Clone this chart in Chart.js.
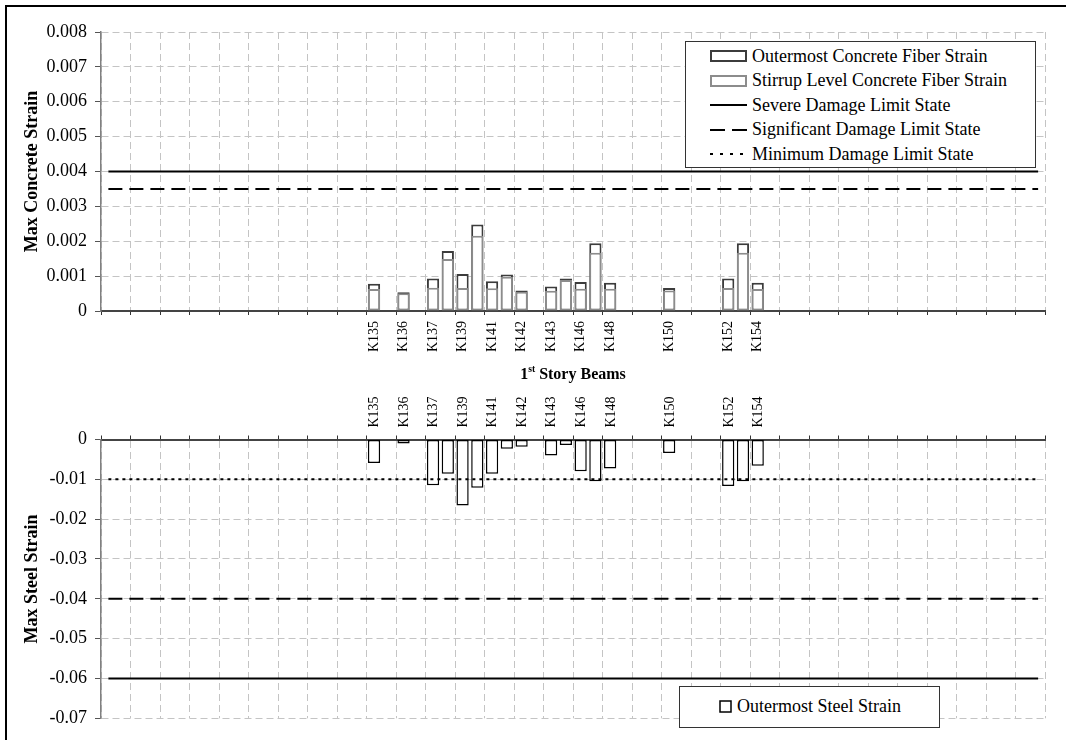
<!DOCTYPE html>
<html>
<head>
<meta charset="utf-8">
<script src="https://cdn.jsdelivr.net/npm/chart.js@4.4.1/dist/chart.umd.min.js"></script>
<style>
  body { margin: 0; width: 1066px; height: 740px; overflow: hidden; background: #fff; position: relative; font-family: "Liberation Serif", serif; }
  #frame { position: absolute; left: 5px; top: 5px; width: 1100px; height: 800px; border: 2px solid #000; }
  canvas { position: absolute; left: 0; }
  #xTitle { position: absolute; left: 573px; top: 373px; transform: translate(-50%, -50%); font-weight: bold; font-size: 16px; white-space: nowrap; }
  #xTitle sup { font-size: 0.6em; }
  .legend { position: absolute; box-sizing: border-box; background: #fff; border: 1.5px solid #333; font-size: 18px; color: #000; }
  .legend .row { display: flex; align-items: center; height: 24.5px; white-space: nowrap; }
  .legend svg { flex: none; margin-right: 5px; }
  #concreteLegend { left: 685px; top: 41px; width: 351px; height: 127px; padding: 2px 0 0 24px; }
  #steelLegend { left: 679px; top: 686px; width: 261px; height: 42px; padding: 7px 0 0 39px; }
</style>
</head>
<body>
<div id="frame"></div>
<canvas id="concreteChart" width="1066" height="380" style="top:0"></canvas>
<canvas id="steelChart" width="1066" height="360" style="top:380px"></canvas>
<div id="xTitle">1<sup>st</sup> Story Beams</div>
<div id="concreteLegend" class="legend"></div>
<div id="steelLegend" class="legend"></div>

<script>
// Beam categories, labels only on every other slot
const categories = [
  '', '', '', '', '', '', '', '', '', '', '', '', '', '', '', '', '', '',
  'K135', '', 'K136', '', 'K137', '', 'K139', '', 'K141', '', 'K142', '',
  'K143', '', 'K146', '', 'K148', '', '', '', 'K150', '', '', '', 'K152', '', 'K154',
  '', '', '', '', '', '', '', '', '', '', '', '', '', '', '', '', '', '', ''
];

// Max concrete strain, outermost fiber
const outermostConcrete = [
  null, null, null, null, null, null, null, null, null, null, null, null, null, null, null, null, null, null,
  0.00078, null, 0.00054, null, 0.00093, 0.00172, 0.00106, 0.00248, 0.00085, 0.00105, 0.00059, null,
  0.00070, 0.00093, 0.00083, 0.00194, 0.00081, null, null, null, 0.00066, null, null, null, 0.00093, 0.00194, 0.00081,
  null, null, null, null, null, null, null, null, null, null, null, null, null, null, null, null, null, null, null
];

// Max concrete strain at stirrup level
const stirrupConcrete = [
  null, null, null, null, null, null, null, null, null, null, null, null, null, null, null, null, null, null,
  0.00063, null, 0.00051, null, 0.00067, 0.00149, 0.00066, 0.00216, 0.00065, 0.00098, 0.00055, null,
  0.00058, 0.00089, 0.00064, 0.00167, 0.00064, null, null, null, 0.00059, null, null, null, 0.00066, 0.00167, 0.00063,
  null, null, null, null, null, null, null, null, null, null, null, null, null, null, null, null, null, null, null
];

// Max steel strain, outermost bar
const outermostSteel = [
  null, null, null, null, null, null, null, null, null, null, null, null, null, null, null, null, null, null,
  -0.0059, null, -0.0010, null, -0.0115, -0.0086, -0.0166, -0.0121, -0.0086, -0.0023, -0.0018, null,
  -0.0040, -0.0014, -0.0080, -0.0105, -0.0073, null, null, null, -0.0034, null, null, null, -0.0117, -0.0105, -0.0066,
  null, null, null, null, null, null, null, null, null, null, null, null, null, null, null, null, null, null, null
];

// Limit states
const concreteSevere = 0.004;
const concreteSignificant = 0.0035;
const steelSevere = -0.06;
const steelSignificant = -0.04;
const steelMinimum = -0.01;

const FONT = 'Liberation Serif';
const GRID = '#c4c4c4';
const SOLID = [];
const DASHED = [14, 7];
const DOTTED = [3, 4];

// constant horizontal line across all beams
function limitLine(label, value, dash) {
    return {
        type: 'line',
        label: label,
        data: categories.map(() => value),
        borderColor: '#000',
        borderWidth: 2,
        borderDash: dash,
        pointRadius: 0,
        fill: false,
        order: 0
    };
}

// shared x axis: 64 slots, grid and ticks every second slot
function beamAxis(position, padding, labelOffset) {
    const everyOther = (ctx, on, off) => (ctx.index === undefined || ctx.index % 2 === 0) ? on : off;
    return {
        type: 'category',
        position: position,
        offset: true,
        grid: {
            offset: true,
            color: ctx => everyOther(ctx, GRID, 'transparent'),
            tickColor: ctx => everyOther(ctx, '#333', 'transparent'),
            tickLength: 4,
            lineWidth: 1
        },
        border: { color: '#444', width: 2, dash: [7, 4] },
        ticks: {
            autoSkip: false,
            minRotation: 90,
            maxRotation: 90,
            padding: padding,
            labelOffset: labelOffset,
            color: '#000',
            font: { family: FONT, size: 14 },
            callback: (value, index) => categories[index]
        }
    };
}

function strainAxis(min, max, step, digits, title) {
    return {
        min: min,
        max: max,
        ticks: {
            stepSize: step,
            padding: 8,
            color: '#000',
            font: { family: FONT, size: 18 },
            callback: v => Math.abs(v) < 1e-9 ? '0' : v.toFixed(digits)
        },
        grid: { color: GRID, tickColor: '#555', tickLength: 6, lineWidth: 1 },
        border: { color: '#808080', width: 1.5, dash: [7, 4] },
        title: {
            display: true,
            text: title,
            color: '#000',
            font: { family: FONT, size: 18, weight: 'bold' },
            padding: { top: 10, bottom: 0 }
        },
        afterFit: scale => { scale.width = 89; }
    };
}

const baseOptions = {
    responsive: false,
    animation: false,
    events: [],
    plugins: { legend: { display: false }, tooltip: { enabled: false } }
};

// top chart: concrete strain
const concreteX = beamAxis('bottom', 6, 0);
concreteX.afterFit = scale => { scale.height = 69; };

new Chart(document.getElementById('concreteChart').getContext('2d'), {
    type: 'bar',
    data: {
        labels: categories,
        datasets: [
            limitLine('Severe Damage Limit State', concreteSevere, SOLID),
            limitLine('Significant Damage Limit State', concreteSignificant, DASHED),
            {
                label: 'Stirrup Level Concrete Fiber Strain',
                data: stirrupConcrete,
                backgroundColor: '#fff',
                borderColor: '#8c8c8c',
                borderWidth: 2,
                borderSkipped: false,
                grouped: false,
                barPercentage: 0.83,
                categoryPercentage: 1,
                order: 1
            },
            {
                label: 'Outermost Concrete Fiber Strain',
                data: outermostConcrete,
                backgroundColor: '#fff',
                borderColor: '#3c3c3c',
                borderWidth: 2,
                borderSkipped: false,
                grouped: false,
                barPercentage: 0.83,
                categoryPercentage: 1,
                order: 2
            }
        ]
    },
    options: {
        ...baseOptions,
        layout: { padding: { left: 12, right: 20.5, top: 32, bottom: 0 } },
        scales: {
            x: concreteX,
            y: strainAxis(0, 0.008, 0.001, 3, 'Max Concrete Strain')
        }
    }
});

// bottom chart: steel strain, axis on top (rotated top labels sit off-centre, nudged back)
const steelX = beamAxis('top', 8, 17.5);
steelX.afterFit = scale => { scale.height = 59.5; };

new Chart(document.getElementById('steelChart').getContext('2d'), {
    type: 'bar',
    data: {
        labels: categories,
        datasets: [
            limitLine('Severe Damage Limit State', steelSevere, SOLID),
            limitLine('Significant Damage Limit State', steelSignificant, DASHED),
            limitLine('Minimum Damage Limit State', steelMinimum, DOTTED),
            {
                label: 'Outermost Steel Strain',
                data: outermostSteel,
                backgroundColor: '#fff',
                borderColor: '#000',
                borderWidth: 1.5,
                borderSkipped: false,
                barPercentage: 0.83,
                categoryPercentage: 1,
                order: 1
            }
        ]
    },
    options: {
        ...baseOptions,
        layout: { padding: { left: 12, right: 20.5, top: 0, bottom: 21.7 } },
        scales: {
            x: steelX,
            y: strainAxis(-0.07, 0, 0.01, 2, 'Max Steel Strain')
        }
    }
});

// legend boxes
function symbol(item) {
    if (item.kind === 'bar') {
        return `<svg width="37" height="12"><rect x="1" y="1" width="35" height="10" fill="#fff" stroke="${item.color}" stroke-width="2"/></svg>`;
    }
    if (item.kind === 'square') {
        return `<svg width="13" height="13"><rect x="1" y="1" width="11" height="11" fill="#fff" stroke="#000" stroke-width="1.5"/></svg>`;
    }
    return `<svg width="37" height="12"><line x1="0" y1="6" x2="37" y2="6" stroke="#000" stroke-width="2" stroke-dasharray="${item.dash}"/></svg>`;
}

function renderLegend(id, items) {
    document.getElementById(id).innerHTML = items
        .map(item => `<div class="row">${symbol(item)}<span>${item.text}</span></div>`)
        .join('');
}

renderLegend('concreteLegend', [
    { kind: 'bar', color: '#3c3c3c', text: 'Outermost Concrete Fiber Strain' },
    { kind: 'bar', color: '#8c8c8c', text: 'Stirrup Level Concrete Fiber Strain' },
    { kind: 'line', dash: 'none', text: 'Severe Damage Limit State' },
    { kind: 'line', dash: '15 7', text: 'Significant Damage Limit State' },
    { kind: 'line', dash: '3 7', text: 'Minimum Damage Limit State' }
]);

renderLegend('steelLegend', [
    { kind: 'square', text: 'Outermost Steel Strain' }
]);
</script>
</body>
</html>
